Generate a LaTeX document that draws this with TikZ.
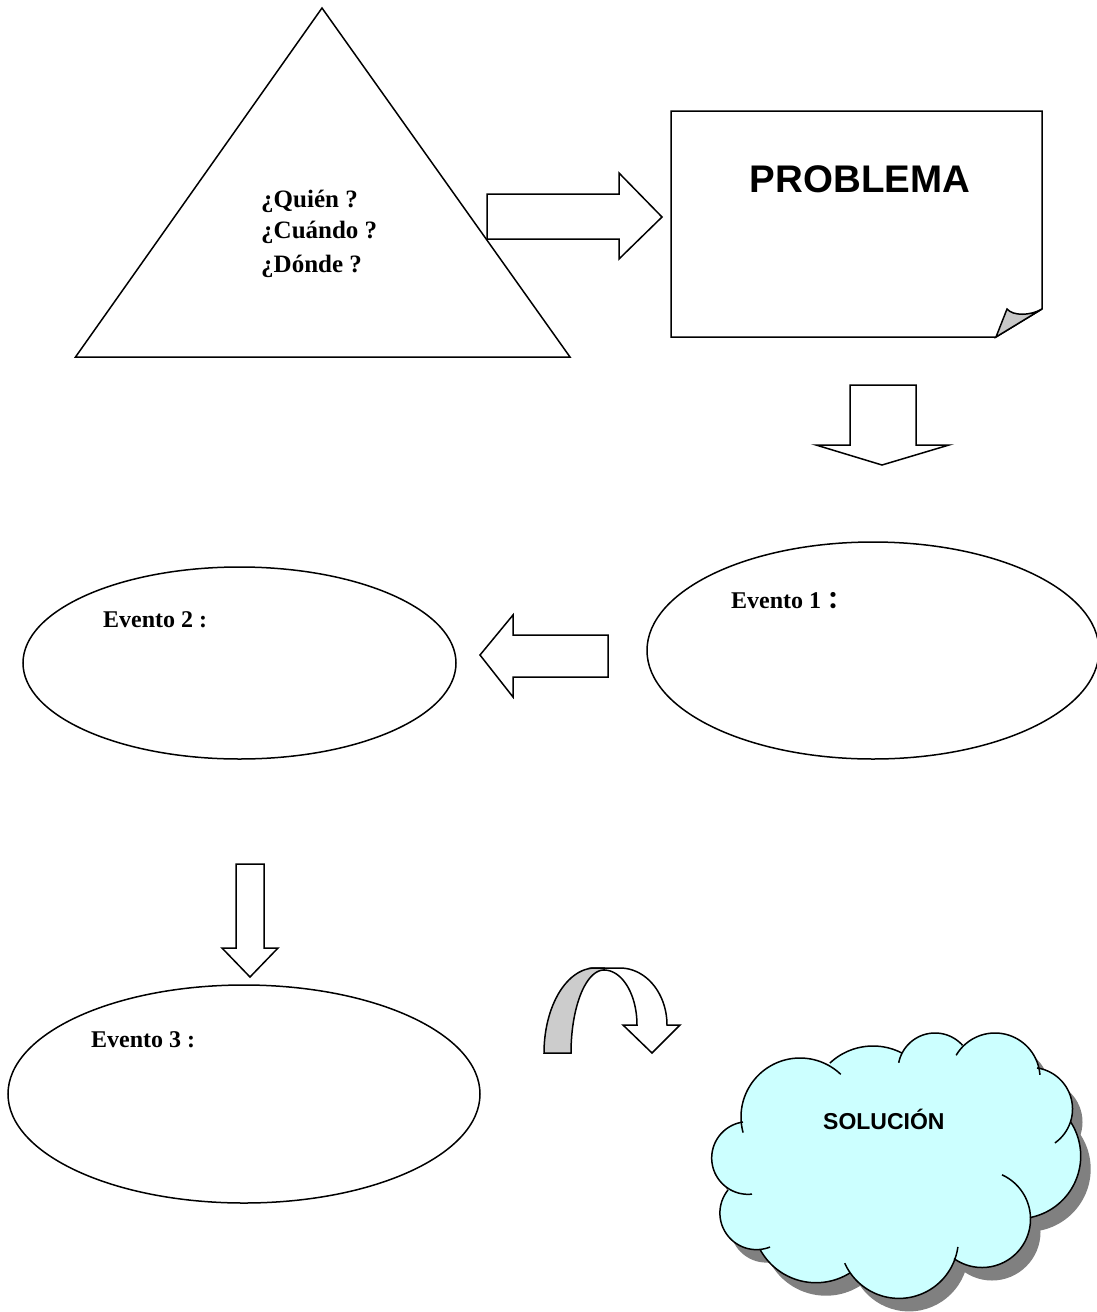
\documentclass[tikz,border=0pt]{standalone}
\usepackage{fontspec}
\setmainfont{Liberation Serif}
\newfontfamily\arialfont{Liberation Sans}
\newfontfamily\cjkfont{Noto Sans CJK SC}
\usetikzlibrary{shapes.geometric}
\definecolor{cloudfill}{HTML}{CCFFFF}
\definecolor{shadowgray}{HTML}{808080}
\definecolor{foldgray}{HTML}{C8C8C8}
\definecolor{bandgray}{HTML}{CCCCCC}
\begin{document}
\begin{tikzpicture}[x=1pt,y=-1pt,
  shapeline/.style={draw=black,line width=1.5pt,fill=white,line join=miter},
  evshape/.style={ellipse,draw=black,line width=1.5pt,fill=white,inner sep=0pt},
  evlabel/.style={anchor=base west,inner sep=0pt,font=\fontsize{24}{28}\selectfont\bfseries},
  qlabel/.style={anchor=base west,inner sep=0pt,font=\fontsize{25}{29}\selectfont\bfseries},
  cloudline/.style={draw=black,line width=1.5pt}]
\useasboundingbox (0,0) rectangle (1096,1312);
\fill[white] (0,0) rectangle (1096,1312);

% Triangle
\draw[shapeline] (322,8) -- (570,357) -- (75.5,357) -- cycle;
\node[qlabel] (q1) at (261,207) {¿Quién ?};
\node[qlabel] (q2) at (261,238) {¿Cuándo ?};
\node[qlabel] (q3) at (261,272) {¿Dónde ?};

% Right block arrow
\draw[shapeline] (487,194) -- (619,194) -- (619,173) -- (662,217) -- (619,259) -- (619,239) -- (487,239) -- cycle;

% Problem note with folded corner
\draw[shapeline] (671,111) -- (1042,111) -- (1042,309) -- (996,337) -- (671,337) -- cycle;
\draw[shapeline,fill=foldgray] (996,337) -- (1007,309) .. controls (1013,316) and (1030,316) .. (1042,309) -- cycle;
\node[anchor=base,inner sep=0pt,font=\arialfont\fontsize{38.5}{42}\selectfont\bfseries] (prob) at (860,192) {PROBLEMA};

% Down block arrow 1
\draw[shapeline] (850,385) -- (916,385) -- (916,445) -- (949,445) -- (882,465) -- (816,445) -- (850,445) -- cycle;

% Evento ellipses
\node[evshape,minimum width=452pt,minimum height=217pt] (e1) at (873,650.5) {};
\node[evshape,minimum width=433pt,minimum height=192pt] (e2) at (239.5,663) {};
\node[evshape,minimum width=472pt,minimum height=218pt] (e3) at (244,1094) {};
\node[evlabel] (t1) at (731,608) {Evento 1 {\cjkfont\bfseries ：}};
\node[evlabel] (t2) at (103,627) {Evento 2 :};
\node[evlabel] (t3) at (91,1047) {Evento 3 :};

% Left block arrow
\draw[shapeline] (608,635) -- (608,677) -- (513,677) -- (513,697) -- (480,655) -- (513,615) -- (513,635) -- cycle;

% Down block arrow 2
\draw[shapeline] (236,864) -- (264,864) -- (264,948) -- (278,948) -- (250,977) -- (222,948) -- (236,948) -- cycle;

% Curved (U-turn) arrow
\draw[shapeline] (595,968) -- (620,968)
  -- plot[domain=270:360,samples=30] ({620+47*cos(\x)},{1025+57*sin(\x)})
  -- (680,1025) -- (652,1053) -- (623,1025) -- (637,1025)
  -- plot[domain=360:270,samples=30] ({604+33*cos(\x)},{1025+55*sin(\x)}) -- cycle;
\draw[shapeline,fill=bandgray] plot[domain=180:270,samples=30] ({595+51*cos(\x)},{1053+85*sin(\x)})
  -- (604,968)
  -- plot[domain=270:180,samples=30] ({604+33*cos(\x)},{1053+83*sin(\x)}) -- cycle;

% Cloud: shadow
\begin{scope}[shift={(10,13)}]
  \foreach \cx/\cy/\rr in {800/1117/59, 873/1109/63, 935/1070/37, 995/1078/45, 1031/1109/41.5, 1018/1156/62.7, 982/1219/48.5, 899/1239/59.4, 816/1219/63.7, 756.5/1213/36.6, 748/1158/36.3}
    {\fill[shadowgray] (\cx,\cy) circle[radius=\rr];}
  \fill[shadowgray] (800,1117) -- (873,1109) -- (935,1070) -- (995,1078) -- (1031,1109) -- (1018,1156) -- (982,1219) -- (899,1239) -- (816,1219) -- (756.5,1213) -- (748,1158) -- cycle;
\end{scope}
% Cloud: body
\foreach \cx/\cy/\rr in {800/1117/59, 873/1109/63, 935/1070/37, 995/1078/45, 1031/1109/41.5, 1018/1156/62.7, 982/1219/48.5, 899/1239/59.4, 816/1219/63.7, 756.5/1213/36.6, 748/1158/36.3}
  {\fill[cloudfill] (\cx,\cy) circle[radius=\rr];}
\fill[cloudfill] (800,1117) -- (873,1109) -- (935,1070) -- (995,1078) -- (1031,1109) -- (1018,1156) -- (982,1219) -- (899,1239) -- (816,1219) -- (756.5,1213) -- (748,1158) -- cycle;
% Cloud: outline arcs
\foreach \cx/\cy/\rr/\sa/\ea in {800/1117/59/164.7/313.7, 873/1109/63/226.9/297.4, 935/1070/37/191.3/318.2, 995/1078/45/210.3/356, 1031/1109/41.5/278.3/414.8, 1018/1156/62.7/327/439, 982/1219/48.5/294.4/485.3, 899/1239/59.4/7.7/156, 816/1219/63.7/57.8/151, 756.5/1213/36.6/68.3/218.9, 748/1158/36.3/83.7/262}
  {\draw[cloudline] plot[domain=\sa:\ea,samples=60] ({\cx+\rr*cos(\x)},{\cy+\rr*sin(\x)});}
\node[anchor=base west,inner sep=0pt,font=\arialfont\fontsize{23}{26}\selectfont\bfseries] (sol) at (823,1129) {SOLUCIÓN};
\end{tikzpicture}
\end{document}
